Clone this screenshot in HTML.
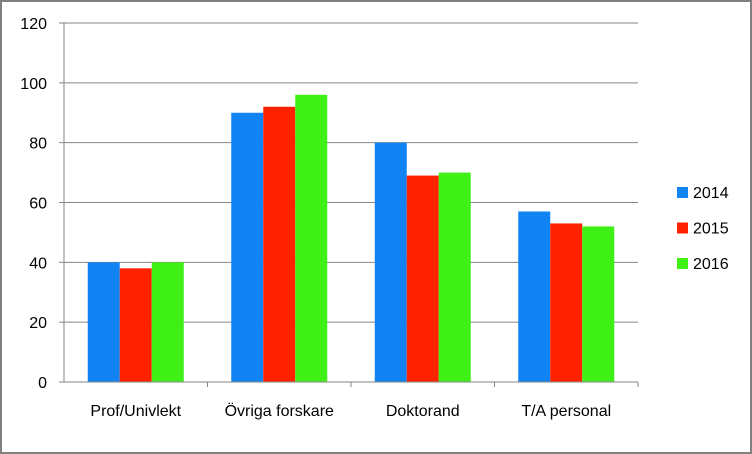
<!DOCTYPE html>
<html><head><meta charset="utf-8"><style>
html,body{margin:0;padding:0;background:#fff}
svg{display:block;font-family:"Liberation Sans",sans-serif}
</style></head><body>
<svg width="752" height="454">
<rect x="1" y="1" width="750" height="452" fill="#fff" stroke="#808080" stroke-width="2"/>
<g id="grid"></g><g id="bars"></g><g id="axes"></g><g id="legend"></g>
</svg>
<script>
const categories=["Prof/Univlekt","Övriga forskare","Doktorand","T/A personal"];
const seriesNames=["2014","2015","2016"];
const s2014=[40,90,80,57];
const s2015=[38,92,69,53];
const s2016=[40,96,70,52];
const yTicks=[0,20,40,60,80,100,120];
const colors=["#1283F2","#FF2200","#3FF016"];
const series=[s2014,s2015,s2016];
const NS="http://www.w3.org/2000/svg";
const x0=64,x1=638,y0=382,y1=23,yMax=120;
const y=v=>y0-(y0-y1)*v/yMax;
const cw=(x1-x0)/categories.length;
function mk(t,a,p){const e=document.createElementNS(NS,t);for(const k in a)e.setAttribute(k,a[k]);p.appendChild(e);return e;}
const grid=document.getElementById('grid'),bars=document.getElementById('bars'),axes=document.getElementById('axes'),leg=document.getElementById('legend');
yTicks.forEach(v=>{
 if(v>0){const g=mk('line',{x1:x0,x2:x1,y1:y(v),y2:y(v),stroke:'#868686','stroke-width':1},grid);
 
 }
 const tk=mk('line',{x1:x0-5,x2:x0,y1:y(v),y2:y(v),stroke:'#868686'},axes);
 
 
 const t=mk('text',{x:x0-17,y:y(v)+6,'text-anchor':'end','font-size':16,fill:'#000'},axes);
 t.textContent=v;
 
 
});
const bw=32;
categories.forEach((c,i)=>{
 const cx=x0+cw*(i+0.5);
 series.forEach((s,j)=>{
  const bx=cx-bw*1.5+bw*j;
  const r=mk('rect',{x:bx,y:y(s[j===undefined?0:i]),width:bw,height:y0-y(s[i]),fill:colors[j]},bars);
  
  
 });
 const t=mk('text',{x:cx,y:416,'text-anchor':'middle','font-size':16,fill:'#000'},axes);
 t.textContent=c;
 
 
 const tk=mk('line',{x1:x0+cw*(i+1),x2:x0+cw*(i+1),y1:y0,y2:y0+5,stroke:'#868686'},axes);
 
 
});
const ya=mk('line',{x1:x0,x2:x0,y1:y1,y2:y0,stroke:'#868686'},axes);


const xa=mk('line',{x1:x0-5,x2:x1,y1:y0,y2:y0,stroke:'#868686'},axes);


const fr=mk('rect',{x:x0,y:y1,width:x1-x0,height:0,fill:'none'},axes);


seriesNames.forEach((n,j)=>{
 const ly=187+j*35.5;
 const r=mk('rect',{x:677,y:ly,width:11,height:11,fill:colors[j]},leg);
 
 
 const t=mk('text',{x:693,y:ly+11,'font-size':16,fill:'#000'},leg);
 t.textContent=n;
 
 
});
</script>
</body></html>
